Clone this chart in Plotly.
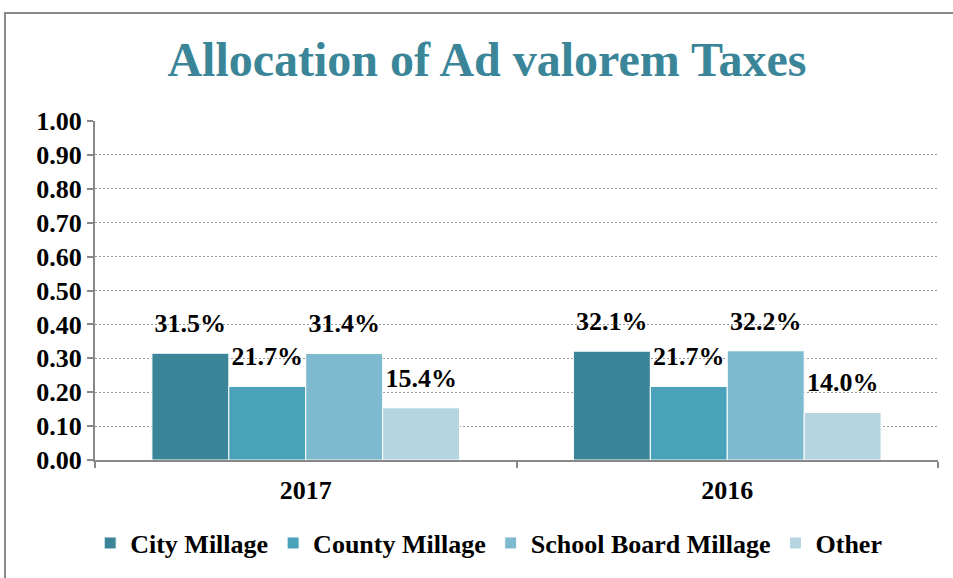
import plotly.graph_objects as go

years = ["2017", "2016"]
series = ["City Millage", "County Millage", "School Board Millage", "Other"]
values = {
    "City Millage": [0.315, 0.321],
    "County Millage": [0.217, 0.217],
    "School Board Millage": [0.314, 0.322],
    "Other": [0.154, 0.140],
}
colors = ["#3A8598", "#49A2BA", "#7DB9CF", "#B5D5E0"]
y_ticks = [0.0, 0.1, 0.2, 0.3, 0.4, 0.5, 0.6, 0.7, 0.8, 0.9, 1.0]

FONT = "Liberation Serif"

fig = go.Figure()
for name, col in zip(series, colors):
    fig.add_trace(go.Bar(
        x=years, y=values[name], name=name,
        marker=dict(color=col, line=dict(color="white", width=1)),
        hoverinfo="skip",
    ))
# value labels, grouped the same way as the bars, lifted a bit above the bar tops
for name in series:
    fig.add_trace(go.Scatter(
        x=years, y=values[name], mode="markers+text", showlegend=False,
        marker=dict(size=22, opacity=0),
        texttemplate="%{y:.1%}", textposition="top center", cliponaxis=False,
        textfont=dict(family=FONT, size=26, color="black", weight="bold"),
        hoverinfo="skip",
    ))

fig.update_layout(
    width=953, height=578,
    margin=dict(l=95, r=15, t=121, b=115),
    paper_bgcolor="white", plot_bgcolor="white",
    barmode="group", bargap=0.27, bargroupgap=0,
    scattermode="group", scattergap=0.27,
    font=dict(family=FONT, color="black"),
    title=dict(text="Allocation of Ad valorem Taxes", x=0.511, xanchor="center",
               y=0.897, yanchor="middle",
               font=dict(family=FONT, size=48, color="#3A8598", weight="bold")),
    legend=dict(orientation="h", x=0.467, xanchor="center", y=-0.245, yanchor="middle",
                font=dict(family=FONT, size=26, color="black", weight="bold"),
                itemwidth=30),
    showlegend=True,
)

fig.update_xaxes(
    showline=True, linecolor="#888888", linewidth=2,
    ticks="outside", tickson="boundaries", ticklen=6, tickcolor="#888888", tickwidth=2,
    ticklabelstandoff=6,
    tickfont=dict(family=FONT, size=26, color="black", weight="bold"),
)
fig.update_yaxes(
    range=[0, 1.0], tickvals=y_ticks, tickformat=".2f",
    showline=True, linecolor="#888888", linewidth=2,
    ticks="outside", ticklen=6, tickcolor="#888888", tickwidth=2,
    showgrid=True, gridcolor="#9A9A9A", griddash="2px,2px", gridwidth=1,
    zeroline=False,
    tickfont=dict(family=FONT, size=26, color="black", weight="bold"),
)

# outer chart border (left and top edges visible)
fig.add_shape(type="rect", xref="paper", yref="paper",
              x0=(5 - 95) / 843, x1=(975 - 95) / 843,
              y0=(463 - 600) / 342, y1=(463 - 12) / 342,
              line=dict(color="#888888", width=2), layer="below")

fig.write_html("out.html", config={"displayModeBar": False},
               post_script="document.body.style.margin='0';")
